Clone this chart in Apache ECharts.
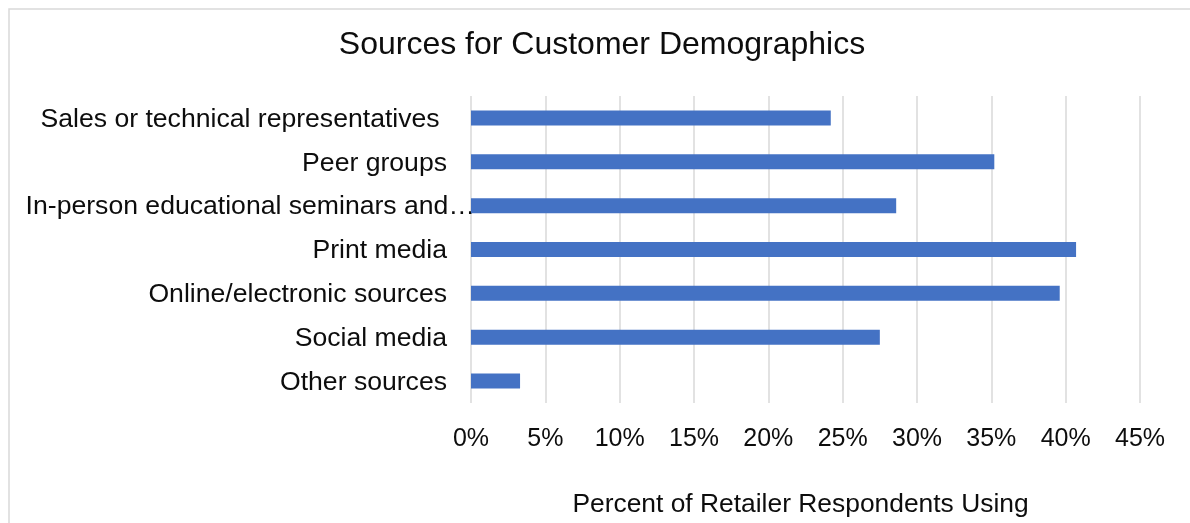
<!DOCTYPE html>
<html>
<head>
<meta charset="utf-8">
<script src="https://cdn.jsdelivr.net/npm/echarts@6/dist/echarts.min.js"></script>
<style>
  html, body { margin: 0; padding: 0; background: #fff; }
  #chart { width: 1190px; height: 523px; }
</style>
</head>
<body>
<div id="chart"></div>
<script>
// Survey categories, top to bottom
const categories = [
  'Sales or technical representatives ',
  'Peer groups',
  'In-person educational seminars and\u2026',
  'Print media',
  'Online/electronic sources',
  'Social media',
  'Other sources'
];
// Percent of retailer respondents using each source
const percentUsing = [24.2, 35.2, 28.6, 40.7, 39.6, 27.5, 3.3];
// Horizontal axis ticks (percent)
const axisMin = 0;
const axisMax = 45;
const axisStep = 5;

const FONT = '"Liberation Sans", Arial, sans-serif';
const TEXT = '#0d0d0d';
const GRID = '#d9d9d9';

const chart = echarts.init(document.getElementById('chart'), null, { renderer: 'canvas' });

chart.setOption({
  backgroundColor: '#ffffff',
  animation: false,
  graphic: [{
    type: 'rect',
    left: 6.5, top: 6.5,
    shape: { width: 1300, height: 700 },
    style: { fill: 'none', stroke: GRID, lineWidth: 1.5 },
    silent: true
  }],
  title: {
    text: 'Sources for Customer Demographics',
    left: 602,
    textAlign: 'center',
    top: 29,
    padding: 0,
    textStyle: { fontFamily: FONT, fontSize: 32, fontWeight: 'normal', color: TEXT }
  },
  grid: { left: 471, right: 50, top: 96, bottom: 117, containLabel: false },
  xAxis: {
    type: 'value',
    min: axisMin,
    max: axisMax,
    interval: axisStep,
    name: 'Percent of Retailer Respondents Using',
    nameLocation: 'middle',
    nameGap: 89,
    nameTextStyle: { fontFamily: FONT, fontSize: 26.4, color: TEXT, padding: [0, 10, 0, 0] },
    axisLine: { show: false },
    axisTick: { show: false },
    axisLabel: {
      formatter: '{value}%',
      margin: 24,
      fontFamily: FONT, fontSize: 25, color: TEXT
    },
    splitLine: { show: true, lineStyle: { color: GRID, width: 1.5 } }
  },
  yAxis: {
    type: 'category',
    inverse: true,
    data: categories,
    axisLine: { show: false },
    axisTick: { show: false },
    axisLabel: {
      margin: -4,
      padding: [3, 0, 0, 0],
      fontFamily: FONT, fontSize: 26.6, color: TEXT,
      formatter: function (v) {
        return v.endsWith('\u2026') ? v : v + '{gap| }';
      },
      rich: { gap: { width: 28, fontFamily: FONT, fontSize: 26.6 } }
    }
  },
  series: [{
    type: 'bar',
    data: percentUsing,
    barWidth: 15,
    itemStyle: { color: '#4472c4' }
  }]
});
</script>
</body>
</html>
